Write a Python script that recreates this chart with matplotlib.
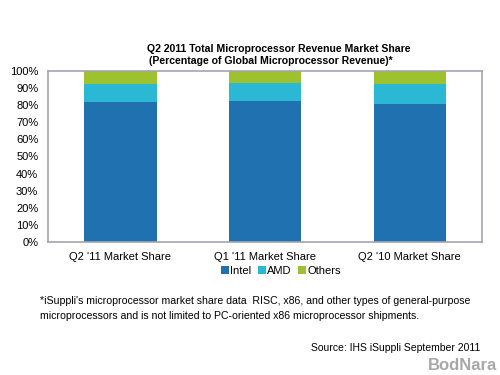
import matplotlib
matplotlib.use("Agg")
import matplotlib.pyplot as plt
import numpy as np

plt.rcParams['font.family'] = ['Liberation Sans', 'DejaVu Sans']

categories = ["Q2 '11 Market Share", "Q1 '11 Market Share", "Q2 '10 Market Share"]
intel = [82.0, 82.6, 80.9]
amd = [10.4, 10.4, 11.5]
others = [7.6, 7.0, 7.6]
series_names = ["Intel", "AMD", "Others"]
colors = ["#1f72af", "#2bb8d4", "#9dc22d"]

fig = plt.figure(figsize=(5, 3.75), dpi=100)
# plot area in pixels: x 48-482, y 71-242
ax = fig.add_axes([48 / 500, 1 - 242 / 375, 434 / 500, 171 / 375])

x = np.arange(len(categories))
bottom = np.zeros(len(categories))
for vals, name, c in zip([intel, amd, others], series_names, colors):
    ax.bar(x, vals, width=0.5, bottom=bottom, color=c, label=name)
    bottom += np.array(vals)

ax.set_xlim(-0.5, 2.5)
ax.set_ylim(0, 100)
ax.set_yticks(range(0, 101, 10))
ax.set_yticklabels([f"{v}%" for v in range(0, 101, 10)], fontsize=8)
ax.set_xticks(x)
ax.set_xticklabels(categories, fontsize=8)
ax.tick_params(axis='y', length=0, pad=7)
ax.tick_params(axis='x', length=0, pad=7)
for s in ax.spines.values():
    s.set_color("#a4a4b0")
    s.set_linewidth(1.2)

fig.text(279 / 500, 1 - 49 / 375, "Q2 2011 Total Microprocessor Revenue Market Share",
         ha="center", va="center", fontsize=7.6, fontweight="bold")
fig.text(271 / 500, 1 - 61 / 375, "(Percentage of Global Microprocessor Revenue)*",
         ha="center", va="center", fontsize=7.6, fontweight="bold")

ax.legend(loc="center", bbox_to_anchor=(281 / 500, 1 - 271 / 375),
          bbox_transform=fig.transFigure, ncol=3, frameon=False, fontsize=8,
          handlelength=0.7, handleheight=0.7, handletextpad=0.1, columnspacing=0.6)

fig.text(40 / 500, 1 - 301 / 375,
         "*iSuppli's microprocessor market share data  RISC, x86, and other types of general-purpose",
         ha="left", va="center", fontsize=7.6)
fig.text(40 / 500, 1 - 316 / 375,
         "microprocessors and is not limited to PC-oriented x86 microprocessor shipments.",
         ha="left", va="center", fontsize=7.6)
fig.text(480 / 500, 1 - 348 / 375, "Source: IHS iSuppli September 2011",
         ha="right", va="center", fontsize=7.5)
fig.text(497 / 500, 1 - 365 / 375, "BodNara", ha="right", va="center",
         fontsize=12, fontweight="bold", color="#a8a8a8")

fig.savefig("out.png", dpi=100)
